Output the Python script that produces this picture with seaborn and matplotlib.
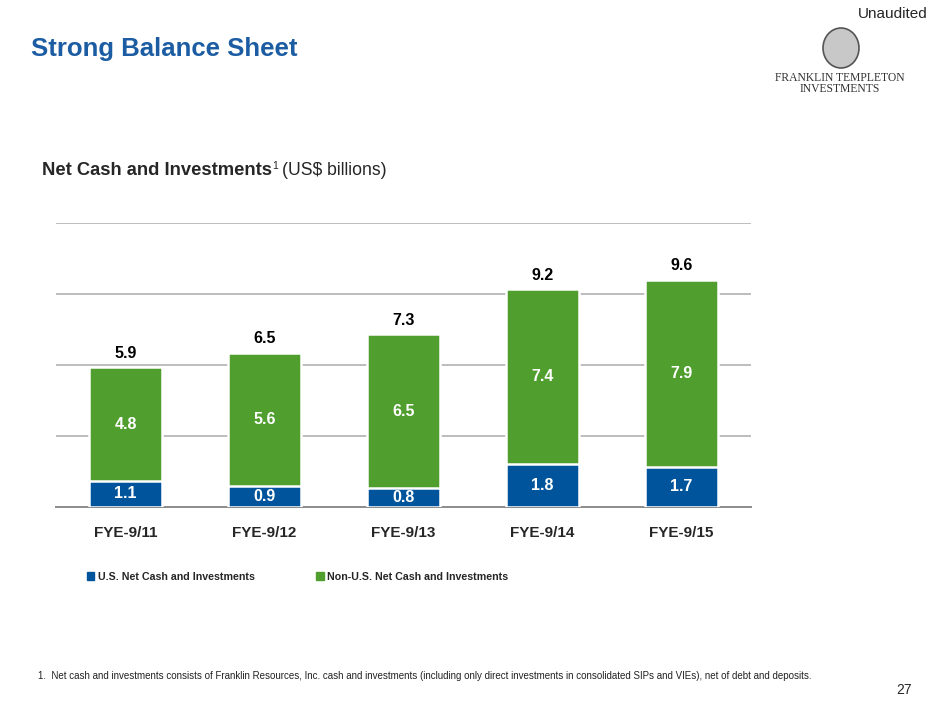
import matplotlib
matplotlib.use("Agg")
import matplotlib.pyplot as plt
import matplotlib.patches as mpatches
import pandas as pd
import seaborn as sns

# ---------------- DATA ---------------- #
years = ["FYE-9/11", "FYE-9/12", "FYE-9/13", "FYE-9/14", "FYE-9/15"]
us_cash = [1.1, 0.9, 0.8, 1.8, 1.7]
non_us_cash = [4.8, 5.6, 6.5, 7.4, 7.9]
totals = [5.9, 6.5, 7.3, 9.2, 9.6]

BLUE = "#00549b"
GREEN = "#4f9e2e"
TITLE_BLUE = "#1b5ca3"

df = pd.DataFrame({"year": years, "us": us_cash, "non_us": non_us_cash, "total": totals})

sns.set_style("white")
plt.rcParams["font.family"] = ["Liberation Sans", "DejaVu Sans"]

fig = plt.figure(figsize=(9.4, 7.05), dpi=100)
ax = fig.add_axes([56 / 940, 1 - 507 / 705, (751 - 56) / 940, (507 - 223) / 705])

# ---------------- BARS ---------------- #
# green bar = total height, blue U.S. part drawn over its lower portion
sns.barplot(data=df, x="year", y="total", color=GREEN, width=0.53, saturation=1,
            edgecolor="white", linewidth=1.8, ax=ax, zorder=2)
sns.barplot(data=df, x="year", y="us", color=BLUE, width=0.53, saturation=1,
            edgecolor="white", linewidth=1.8, ax=ax, zorder=3)

ax.set_ylim(0, 12)
ax.set_xlim(-0.5, 4.5)
ax.set_yticks([3, 6, 9, 12])
ax.set_yticklabels([])
ax.tick_params(axis="y", length=0)
ax.tick_params(axis="x", length=0, pad=14)
ax.yaxis.grid(True, color="#bdbdbd", linewidth=1.4, zorder=0)
ax.set_axisbelow(True)
for s in ["left", "right", "top"]:
    ax.spines[s].set_visible(False)
ax.spines["bottom"].set_color("#8c8c8c")
ax.spines["bottom"].set_linewidth(1.4)
ax.set_xlabel("")
ax.set_ylabel("")
for lbl in ax.get_xticklabels():
    lbl.set_fontweight("bold")
    lbl.set_fontsize(11)

# ---------------- LABELS ---------------- #
for i in range(len(years)):
    ax.text(i, us_cash[i] / 2, f"{us_cash[i]:.1f}", ha="center", va="center",
            color="white", fontsize=11.5, fontweight="bold", zorder=5)
    ax.text(i, us_cash[i] + non_us_cash[i] / 2, f"{non_us_cash[i]:.1f}", ha="center",
            va="center", color="white", fontsize=11.5, fontweight="bold", zorder=5)
    ax.text(i, totals[i] + 0.6, f"{totals[i]:.1f}", ha="center", va="center",
            color="black", fontsize=11.5, fontweight="bold", zorder=5,
            bbox=dict(fc="white", ec="none", pad=2))

# ---------------- LEGEND ---------------- #
handles = [mpatches.Patch(color=BLUE, label="U.S. Net Cash and Investments"),
           mpatches.Patch(color=GREEN, label="Non-U.S. Net Cash and Investments")]
fig.legend(handles=handles, loc="center left", bbox_to_anchor=(77 / 940, 1 - 577 / 705),
           ncol=2, frameon=False, handlelength=0.72, handleheight=0.72, handletextpad=0.35,
           columnspacing=5.7, prop=dict(weight="bold", size=7.7))

# ---------------- TEXT ---------------- #
fig.text(31 / 940, 1 - 56 / 705, "Strong Balance Sheet", color=TITLE_BLUE,
         fontsize=18.5, fontweight="bold", va="baseline")
t1 = fig.text(42 / 940, 1 - 175 / 705, "Net Cash and Investments", fontsize=13.2,
              fontweight="bold", va="baseline")
ax.annotate("1", xy=(1, 0), xycoords=t1, xytext=(0.5, 6), textcoords="offset points",
            fontsize=7.5, va="bottom", ha="left", annotation_clip=False)
ax.annotate("(US$ billions)", xy=(1, 0), xycoords=t1, xytext=(7.5, 0),
            textcoords="offset points", fontsize=12.7, va="bottom", ha="left",
            annotation_clip=False)

fig.text(928 / 940, 1 - 14 / 705, "Unaudited", fontsize=11, ha="right", va="center")

# logo stand-in: oval frame + wordmark
fig.patches.append(mpatches.Ellipse((841 / 940, 1 - 48 / 705), 36 / 940, 40 / 705,
                                    transform=fig.transFigure, fc="#c8c8c8", ec="#555555",
                                    lw=1.2))
fig.text(840 / 940, 1 - 78 / 705, "FRANKLIN TEMPLETON", fontsize=8.4, ha="center",
         va="center", family=["Liberation Serif", "DejaVu Serif"], color="#333333")
fig.text(840 / 940, 1 - 89.5 / 705, "INVESTMENTS", fontsize=8.4, ha="center",
         va="center", family=["Liberation Serif", "DejaVu Serif"], color="#333333")

fig.text(38 / 940, 1 - 676 / 705,
         "1.  Net cash and investments consists of Franklin Resources, Inc. cash and investments "
         "(including only direct investments in consolidated SIPs and VIEs), net of debt and deposits.",
         fontsize=7.0, va="center", color="#222222")
fig.text(912 / 940, 1 - 690 / 705, "27", fontsize=10, ha="right", va="center")

fig.savefig("out.png", dpi=100, facecolor="white")
